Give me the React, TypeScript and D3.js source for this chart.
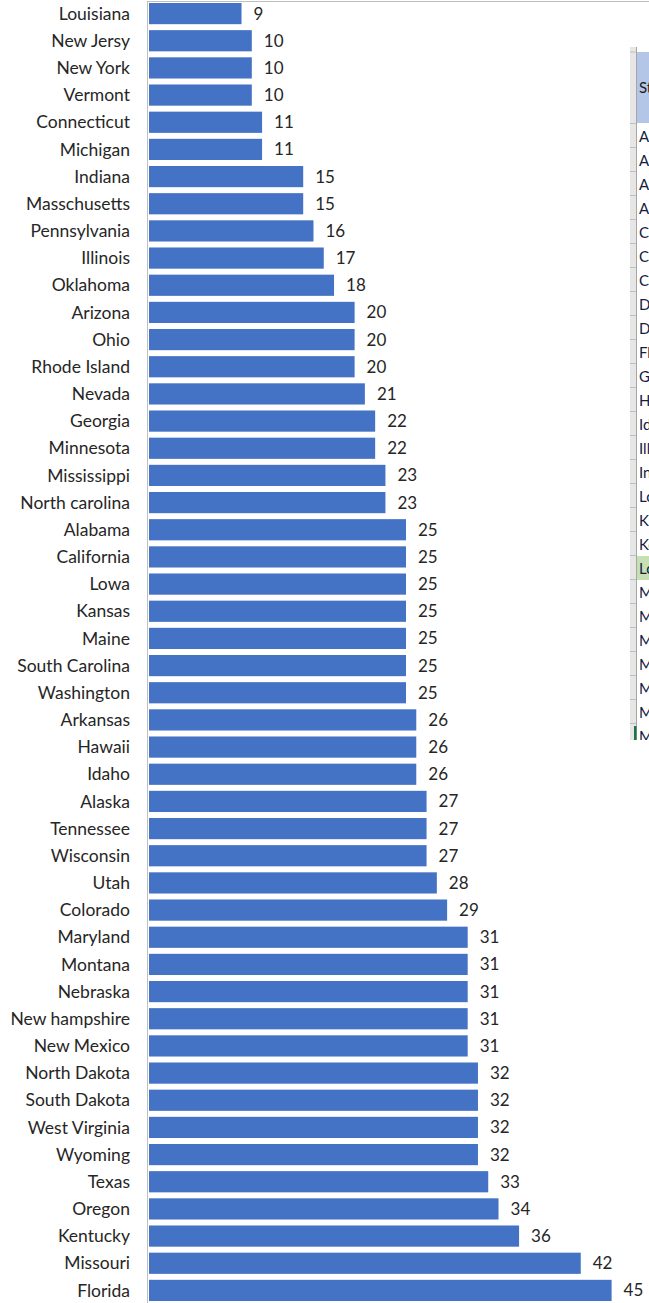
import * as d3 from "d3";

const states = [
  "Louisiana", "New Jersy", "New York", "Vermont", "Connecticut", "Michigan", "Indiana",
  "Masschusetts", "Pennsylvania", "Illinois", "Oklahoma", "Arizona", "Ohio", "Rhode Island",
  "Nevada", "Georgia", "Minnesota", "Mississippi", "North carolina", "Alabama", "California",
  "Lowa", "Kansas", "Maine", "South Carolina", "Washington", "Arkansas", "Hawaii", "Idaho",
  "Alaska", "Tennessee", "Wisconsin", "Utah", "Colorado", "Maryland", "Montana", "Nebraska",
  "New hampshire", "New Mexico", "North Dakota", "South Dakota", "West Virginia", "Wyoming",
  "Texas", "Oregon", "Kentucky", "Missouri", "Florida",
];
const values = [
  9, 10, 10, 10, 11, 11, 15, 15, 16, 17, 18, 20, 20, 20, 21, 22, 22, 23, 23, 25, 25, 25, 25,
  25, 25, 25, 26, 26, 26, 27, 27, 27, 28, 29, 31, 31, 31, 31, 31, 32, 32, 32, 32, 33, 34, 36,
  42, 45,
];

// spreadsheet peeking in at the right edge (cut off by the screenshot)
const sheetHeader = "State";
const sheetRows = [
  "Alabama", "Alaska", "Arizona", "Arkansas", "California", "Colorado", "Connecticut",
  "Delaware", "DC", "Florida", "Georgia", "Hawaii", "Idaho", "Illinois", "Indiana", "Lowa",
  "Kansas", "Kentucky", "Louisiana", "Maine", "Maryland", "Masschusetts", "Michigan",
  "Minnesota", "Mississippi", "Missouri",
];
const sheetSelected = "Louisiana";

const W = 649, H = 1303;
const FONT = "Lato, 'Open Sans', sans-serif";

export default function App() {
  const rows = states.map((s, i) => ({ state: s, value: values[i] }));
  const y = d3.scaleBand<string>().domain(states).range([0, 1304])
    .paddingInner(0.22).paddingOuter(0.11);
  const x = d3.scaleLinear().domain([0, 45]).range([149, 611.6]);

  const sy = d3.scaleBand<string>().domain(sheetRows).range([124, 124 + 24 * sheetRows.length]);

  return (
    <svg width={W} height={H} style={{ position: "absolute", left: 0, top: 0 }}
         fontFamily={FONT}>
      <defs>
        <clipPath id="sheet-clip"><rect x={630} y={47} width={19} height={693} /></clipPath>
      </defs>
      <rect width={W} height={H} fill="#fff" />
      {/* plot border */}
      <line x1={148} x2={W} y1={1.5} y2={1.5} stroke="#bfbfbf" />
      <line x1={147.5} x2={147.5} y1={1} y2={H} stroke="#bfbfbf" />

      {rows.map((d) => (
        <g key={d.state}>
          <rect x={x(0)} y={y(d.state)} width={x(d.value) - x(0)} height={y.bandwidth()}
                fill="#4472c4" />
          <text x={130} y={(y(d.state) ?? 0) + y.bandwidth() / 2} dy="0.35em"
                textAnchor="end" fontSize={17.5} fill="#262626">{d.state}</text>
          <text x={x(d.value) + 12} y={(y(d.state) ?? 0) + y.bandwidth() / 2} dy="0.35em"
                fontSize={17} fill="#262626">{d.value}</text>
        </g>
      ))}

      {/* spreadsheet fragment */}
      <g fontSize={15} clipPath="url(#sheet-clip)">
        <rect x={630} y={47} width={6} height={693} fill="#e6e6e6" />
        <line x1={636.5} x2={636.5} y1={47} y2={740} stroke="#a6a6a6" />
        <line x1={630} x2={636} y1={52} y2={52} stroke="#bfbfbf" />
        <rect x={637} y={52} width={12} height={71} fill="#b4c6e7" />
        <text x={639} y={88} dy="0.35em" fill="#1a1a1a">{sheetHeader}</text>
        <line x1={630} x2={636} y1={123.5} y2={123.5} stroke="#bfbfbf" />
        {sheetRows.map((r) => (
          <g key={r}>
            {r === sheetSelected &&
              <rect x={637} y={sy(r)} width={12} height={sy.bandwidth()} fill="#c6e0b4" />}
            <line x1={630} x2={636} y1={(sy(r) ?? 0) + sy.bandwidth() - 0.5}
                  y2={(sy(r) ?? 0) + sy.bandwidth() - 0.5} stroke="#bfbfbf" />
            <text x={639} y={(sy(r) ?? 0) + sy.bandwidth() / 2 + 1} dy="0.35em"
                  fill="#14213d">{r}</text>
          </g>
        ))}
        <rect x={634} y={726} width={2.5} height={14} fill="#217346" />
      </g>
    </svg>
  );
}
